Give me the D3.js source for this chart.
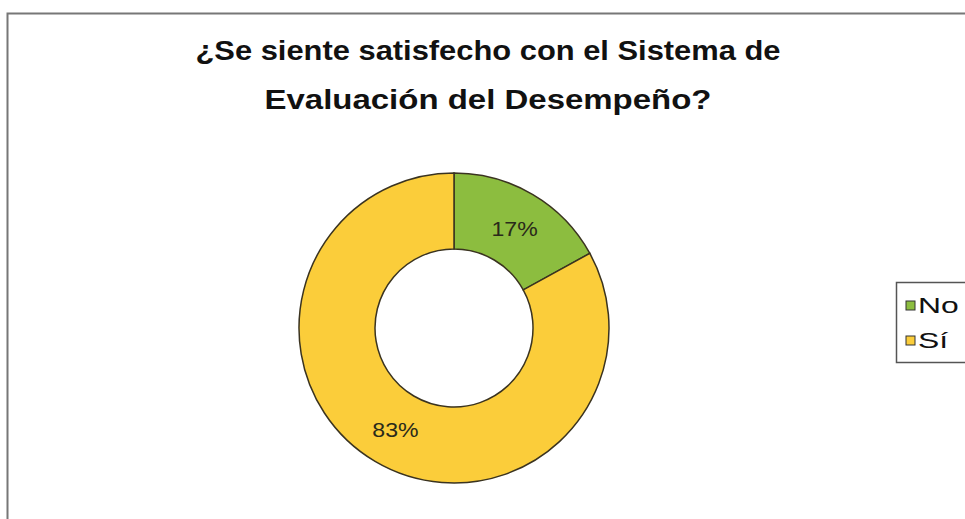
<!DOCTYPE html>
<html>
<head>
<meta charset="utf-8">
<script src="https://cdn.jsdelivr.net/npm/d3@7"></script>
<style>
  body { margin: 0; background: #fff; }
  svg { display: block; font-family: Arial, "Liberation Sans", sans-serif; }
</style>
</head>
<body>
<svg id="chart" width="965" height="519"></svg>
<script>
// data
var categories = ['No', 'Sí'];
var values = [17, 83];
var colors = ['#8cbd3f', '#fbcd3a'];
var titleLines = ['¿Se siente satisfecho con el Sistema de', 'Evaluación del Desempeño?'];
var titleWidths = [585, 447];

var svg = d3.select('#chart');

// chart frame (runs off the right edge in the original)
svg.append('path')
  .attr('d', 'M7.5,519 V13.5 H965')
  .attr('fill', 'none')
  .attr('stroke', '#777')
  .attr('stroke-width', 2);

// title - the original is a bit stretched horizontally
svg.append('g')
  .selectAll('text')
  .data(titleLines)
  .enter().append('text')
  .attr('x', 488)
  .attr('y', function (d, i) { return 60 + i * 49; })
  .attr('text-anchor', 'middle')
  .attr('font-size', 27)
  .attr('font-weight', 'bold')
  .attr('fill', '#111')
  .attr('textLength', function (d, i) { return titleWidths[i]; })
  .attr('lengthAdjust', 'spacingAndGlyphs')
  .text(function (d) { return d; });

var cx = 454, cy = 328;
var outerRadius = 155, innerRadius = 79;

var pie = d3.pie().sort(null).value(function (d) { return d; });
var arcs = pie(values);
var arc = d3.arc().innerRadius(innerRadius).outerRadius(outerRadius);
var labelArc = d3.arc().innerRadius((innerRadius + outerRadius) / 2).outerRadius((innerRadius + outerRadius) / 2);

var g = svg.append('g')
  .attr('transform', 'translate(' + cx + ',' + cy + ')');

g.selectAll('path')
  .data(arcs)
  .enter().append('path')
  .attr('d', arc)
  .attr('fill', function (d, i) { return colors[i]; })
  .attr('stroke', '#3a3320')
  .attr('stroke-width', 1.5);

var total = d3.sum(values);
g.selectAll('text')
  .data(arcs)
  .enter().append('text')
  .attr('transform', function (d) {
    var c = labelArc.centroid(d);
    return 'translate(' + (c[0] + 1) + ',' + (c[1] + 1) + ') scale(1.1,1)';
  })
  .attr('dy', '0.35em')
  .attr('text-anchor', 'middle')
  .attr('font-size', 21)
  .attr('fill', '#2a2a1a')
  .text(function (d) { return Math.round(d.data / total * 100) + '%'; });

// legend
var legend = svg.append('g');
legend.append('rect')
  .attr('x', 896.5).attr('y', 282.5)
  .attr('width', 80).attr('height', 80)
  .attr('fill', '#fff')
  .attr('stroke', '#555')
  .attr('stroke-width', 1.5);

var item = legend.selectAll('g.item')
  .data(categories)
  .enter().append('g')
  .attr('class', 'item')
  .attr('transform', function (d, i) { return 'translate(906,' + (305 + i * 35) + ')'; });

item.append('rect')
  .attr('x', 0).attr('y', -4)
  .attr('width', 9).attr('height', 9)
  .attr('fill', function (d, i) { return colors[i]; })
  .attr('stroke', '#333')
  .attr('stroke-width', 1);

item.append('text')
  .attr('transform', 'translate(12,0) scale(1.45,1)')
  .attr('dy', '0.35em')
  .attr('font-size', 22)
  .attr('fill', '#111')
  .text(function (d) { return d; });
</script>
</body>
</html>
